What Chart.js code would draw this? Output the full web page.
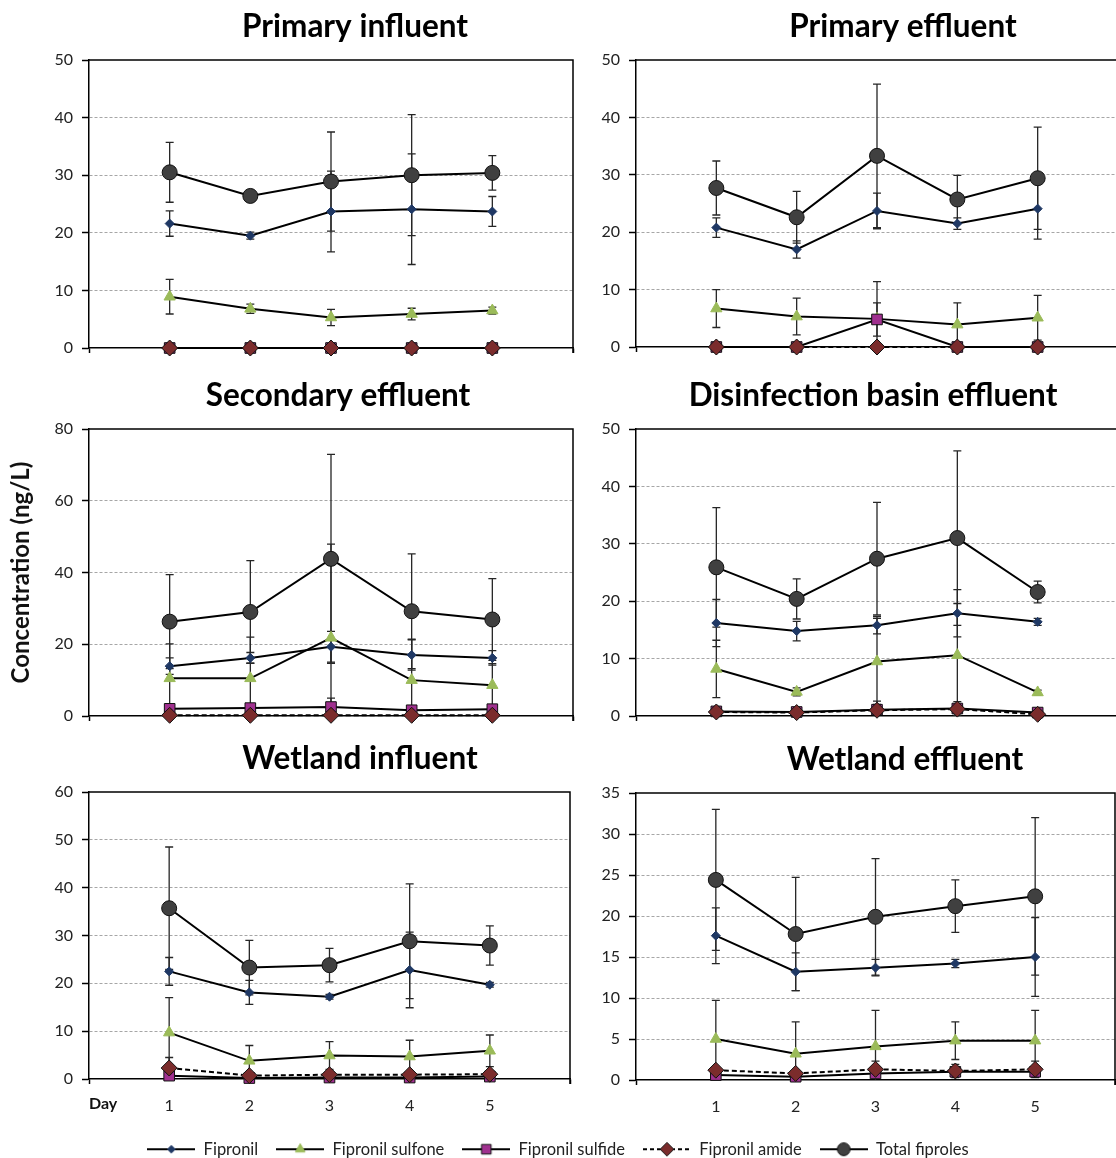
<!DOCTYPE html>
<html><head><meta charset="utf-8">
<script src="https://cdn.jsdelivr.net/npm/chart.js@4"></script>
<style>
html,body{margin:0;padding:0;background:#fff;overflow:hidden;width:1116px;height:1158px;position:relative;}
canvas.c{position:absolute;}
</style></head><body>
<script>
// ---------- data ----------
const days = [1, 2, 3, 4, 5];
const panelTitles = ['Primary influent', 'Primary effluent', 'Secondary effluent',
  'Disinfection basin effluent', 'Wetland influent', 'Wetland effluent'];
const yMaxes = [50, 50, 80, 50, 60, 35];
const ySteps = [10, 10, 20, 10, 10, 5];
const seriesNames = ['Fipronil', 'Fipronil sulfone', 'Fipronil sulfide', 'Fipronil amide', 'Total fiproles'];

// one row per panel (same order as panelTitles)
const fipronil = [
  [21.6, 19.5, 23.7, 24.1, 23.7],
  [20.8, 17.0, 23.7, 21.5, 24.1],
  [13.9, 16.2, 19.3, 17.0, 16.2],
  [16.2, 14.8, 15.8, 17.9, 16.4],
  [22.5, 18.1, 17.2, 22.8, 19.7],
  [17.6, 13.2, 13.7, 14.2, 15.0]];
const fipronilSD = [
  [2.2, 0.6, 7.0, 9.6, 2.6],
  [1.7, 1.5, 3.1, 1.0, 5.3],
  [2.3, 1.5, 4.3, 4.2, 2.0],
  [4.1, 1.7, 1.5, 4.1, 0.6],
  [2.9, 2.5, 0.5, 7.9, 0.5],
  [3.4, 2.3, 1.0, 0.5, 4.8]];
const sulfone = [
  [8.9, 6.8, 5.3, 5.9, 6.5],
  [6.7, 5.3, 4.9, 3.9, 5.1],
  [10.5, 10.5, 21.8, 10.0, 8.6],
  [8.2, 4.2, 9.5, 10.6, 4.1],
  [9.7, 3.8, 4.9, 4.7, 5.9],
  [5.0, 3.2, 4.1, 4.8, 4.8]];
const sulfoneSD = [
  [3.0, 0.8, 1.4, 1.0, 0.6],
  [3.3, 3.2, 6.5, 3.8, 3.9],
  [9.6, 11.5, 26.1, 11.4, 6.0],
  [5.0, 0.7, 7.5, 9.0, 0.4],
  [7.3, 3.2, 2.9, 3.4, 3.3],
  [4.7, 3.9, 4.4, 2.3, 3.7]];
const sulfide = [
  [0, 0, 0, 0, 0],
  [0, 0, 4.8, 0, 0],
  [2.0, 2.2, 2.5, 1.6, 1.9],
  [0.8, 0.7, 1.1, 1.3, 0.6],
  [0.7, 0.2, 0.3, 0.3, 0.5],
  [0.6, 0.4, 0.8, 1.0, 1.0]];
const sulfideSD = [
  [0, 0, 0, 0, 0],
  [0, 0, 2.9, 0, 0],
  [0.5, 1.0, 2.5, 0.5, 0.5],
  [0.3, 0.2, 1.5, 1.2, 0.2],
  [0.3, 0.2, 0.3, 0.3, 0.3],
  [0.3, 0.3, 0.5, 0.4, 0.6]];
const amide = [
  [0, 0, 0, 0, 0],
  [0, 0, 0, 0, 0],
  [0.2, 0.2, 0.2, 0.2, 0.2],
  [0.7, 0.6, 1.0, 1.2, 0.3],
  [2.3, 0.7, 0.9, 0.9, 1.0],
  [1.2, 0.8, 1.3, 1.1, 1.3]];
const amideSD = [
  [0, 0, 0, 0, 0],
  [0, 0, 0, 0, 0],
  [0, 0, 0, 0, 0],
  [0.2, 0.2, 0.5, 0.5, 0.1],
  [2.2, 0.3, 0.3, 0.3, 0.3],
  [0.3, 0.3, 1.0, 0.8, 1.0]];
const total = [
  [30.5, 26.4, 28.9, 30.0, 30.4],
  [27.7, 22.6, 33.3, 25.7, 29.4],
  [26.3, 29.0, 43.8, 29.2, 26.9],
  [25.9, 20.4, 27.4, 31.0, 21.6],
  [35.7, 23.3, 23.8, 28.8, 27.9],
  [24.4, 17.8, 19.9, 21.2, 22.4]];
const totalSD = [
  [5.2, 1.0, 8.6, 10.5, 3.0],
  [4.7, 4.5, 12.5, 4.2, 8.9],
  [13.1, 14.3, 29.1, 16.0, 11.4],
  [10.4, 3.5, 9.8, 15.2, 1.9],
  [12.8, 5.7, 3.5, 12.0, 4.1],
  [8.6, 6.9, 7.1, 3.2, 9.6]];

// ---------- styles / layout ----------
const styles = [
  {shape: 'rectRot', radius: 4.5, fill: '#1F3864', stroke: '#1F3864', dash: []},
  {shape: 'triangle', radius: 6.5, fill: '#9BBB59', stroke: '#9BBB59', dash: []},
  {shape: 'rect', radius: 7.5, fill: '#A0308F', stroke: '#111', dash: []},
  {shape: 'rectRot', radius: 8, fill: '#7B2C2C', stroke: '#111', dash: [5, 3]},
  {shape: 'circle', radius: 7.5, fill: '#404040', stroke: '#111', dash: []}
];
const boxes = [
  {cl: 0,   ct: 0,   cw: 582, ch: 372, pl: 89,  pr: 575,  pt: 60,  pb: 348,  tx: 355},
  {cl: 582, ct: 0,   cw: 545, ch: 372, pl: 636, pr: 1122, pt: 60,  pb: 347,  tx: 903},
  {cl: 0,   ct: 372, cw: 582, ch: 368, pl: 89,  pr: 575,  pt: 429, pb: 716,  tx: 338},
  {cl: 582, ct: 372, cw: 545, ch: 368, pl: 636, pr: 1122, pt: 429, pb: 716,  tx: 873},
  {cl: 0,   ct: 735, cw: 582, ch: 386, pl: 89,  pr: 575,  pt: 792, pb: 1079, tx: 360},
  {cl: 582, ct: 735, cw: 545, ch: 386, pl: 636, pr: 1122, pt: 793, pb: 1080, tx: 905}
];
const FONT = 'Lato';

const errorBarPlugin = {
  id: 'errorBars',
  beforeDatasetsDraw(chart) {
    const ctx = chart.ctx, xs = chart.scales.x, ys = chart.scales.y;
    ctx.save();
    ctx.strokeStyle = '#262626';
    ctx.lineWidth = 1.3;
    chart.data.datasets.forEach(ds => {
      if (!ds.errors) return;
      ds.data.forEach((p, k) => {
        const e = ds.errors[k];
        if (!e) return;
        const x = xs.getPixelForValue(p.x);
        const y1 = ys.getPixelForValue(p.y + e);
        const lowClipped = p.y - e < ys.min;
        const y2 = ys.getPixelForValue(Math.max(p.y - e, ys.min));
        ctx.beginPath();
        ctx.moveTo(x, y1); ctx.lineTo(x, y2);
        ctx.moveTo(x - 4, y1); ctx.lineTo(x + 4, y1);
        if (!lowClipped) { ctx.moveTo(x - 4, y2); ctx.lineTo(x + 4, y2); }
        ctx.stroke();
      });
    });
    ctx.restore();
  }
};
const framePlugin = {
  id: 'frame',
  beforeDatasetsDraw(chart) {
    const a = chart.chartArea, ctx = chart.ctx;
    ctx.save();
    ctx.strokeStyle = '#000';
    ctx.lineWidth = 1.5;
    ctx.beginPath();
    ctx.moveTo(a.left, a.top); ctx.lineTo(a.right, a.top); ctx.lineTo(a.right, a.bottom + 5);
    ctx.stroke();
    ctx.restore();
  }
};
const titlePlugin = {
  id: 'panelTitle',
  afterDraw(chart, args, opts) {
    const ctx = chart.ctx;
    ctx.save();
    ctx.font = 'bold 31.5px ' + FONT;
    ctx.fillStyle = '#000';
    ctx.textAlign = 'center';
    ctx.textBaseline = 'alphabetic';
    ctx.fillText(opts.text, opts.x, opts.y);
    ctx.restore();
  }
};

function addCanvas(l, t, w, h) {
  const cv = document.createElement('canvas');
  cv.className = 'c';
  cv.width = w; cv.height = h;
  cv.style.left = l + 'px'; cv.style.top = t + 'px';
  cv.style.width = w + 'px'; cv.style.height = h + 'px';
  document.body.appendChild(cv);
  return cv;
}

function makePanel(i) {
  const b = boxes[i];
  const cv = addCanvas(b.cl, b.ct, b.cw, b.ch);
  const bottomRow = i >= 4;
  const vals = [fipronil[i], sulfone[i], sulfide[i], amide[i], total[i]];
  const sds = [fipronilSD[i], sulfoneSD[i], sulfideSD[i], amideSD[i], totalSD[i]];
  const datasets = vals.map((v, s) => ({
    label: seriesNames[s],
    data: days.map((d, k) => ({x: d, y: v[k]})),
    errors: sds[s],
    borderColor: '#000', borderWidth: 2, borderDash: styles[s].dash,
    pointStyle: styles[s].shape, pointRadius: styles[s].radius, pointHoverRadius: styles[s].radius,
    pointBackgroundColor: styles[s].fill, pointBorderColor: styles[s].stroke, pointBorderWidth: 1,
    tension: 0, fill: false, clip: false, order: 4 - s
  }));
  const ymax = yMaxes[i];
  new Chart(cv, {
    type: 'line',
    data: {datasets},
    options: {
      responsive: false, animation: false, devicePixelRatio: 1, events: [],
      layout: {padding: {left: 0, top: b.pt - b.ct, right: b.cl + b.cw - b.pr, bottom: 0}},
      plugins: {
        legend: {display: false}, tooltip: {enabled: false},
        panelTitle: {text: panelTitles[i], x: b.tx - b.cl, y: b.pt - 23 - b.ct}
      },
      scales: {
        x: {
          type: 'linear', min: 0, max: 6,
          afterFit: s => { s.height = b.ct + b.ch - b.pb; },
          ticks: {stepSize: 1, autoSkip: false, maxRotation: 0, display: bottomRow,
            callback: v => (v >= 1 && v <= 5) ? String(v) : '',
            font: {family: FONT, size: 16}, color: '#222', padding: 12},
          grid: {display: true, drawOnChartArea: false, drawTicks: true, tickLength: 5, tickWidth: 1.5,
            tickColor: c => (c.tick && (c.tick.value === 0 || c.tick.value === 6)) ? '#000' : 'rgba(0,0,0,0)'},
          border: {display: true, color: '#000', width: 1.5},
          title: {display: i === 4, text: 'Day', align: 'start', color: '#111',
            font: {family: FONT, size: 16, weight: 'bold'}, padding: {top: 0, bottom: 8}}
        },
        y: {
          min: 0, max: ymax,
          afterFit: s => { s.width = b.pl - b.cl; },
          ticks: {stepSize: ySteps[i], font: {family: FONT, size: 16}, color: '#222', padding: 9},
          grid: {lineWidth: 1, tickLength: 7, tickWidth: 1.5, tickColor: '#000',
            color: c => (c.tick && (c.tick.value === 0 || c.tick.value === ymax)) ? 'rgba(0,0,0,0)' : '#A6A6A6'},
          border: {display: true, color: '#000', width: 1.5, dash: [3, 2]},
          title: {display: i === 2, text: 'Concentration (ng/L)', color: '#111',
            font: {family: FONT, size: 24, weight: 'bold'}, padding: {top: 7, bottom: 0}}
        }
      }
    },
    plugins: [errorBarPlugin, framePlugin, titlePlugin]
  });
}

function legendIcon(s) {
  const st = styles[s];
  const c = document.createElement('canvas');
  c.width = 48; c.height = 18;
  const g = c.getContext('2d');
  g.strokeStyle = '#000'; g.lineWidth = 2;
  g.setLineDash(s === 3 ? [4, 3] : []);
  g.beginPath(); g.moveTo(0, 9); g.lineTo(48, 9); g.stroke();
  g.setLineDash([]);
  const r = st.radius * 0.85, x = 24, y = 9;
  g.fillStyle = st.fill; g.strokeStyle = st.stroke; g.lineWidth = 1;
  g.beginPath();
  if (st.shape === 'rectRot') { g.moveTo(x, y - r); g.lineTo(x + r, y); g.lineTo(x, y + r); g.lineTo(x - r, y); g.closePath(); }
  else if (st.shape === 'triangle') { g.moveTo(x, y - r); g.lineTo(x + r * 0.87, y + r * 0.5); g.lineTo(x - r * 0.87, y + r * 0.5); g.closePath(); }
  else if (st.shape === 'rect') { const h = r * 0.75; g.rect(x - h, y - h, 2 * h, 2 * h); }
  else { g.arc(x, y, r, 0, Math.PI * 2); }
  g.fill(); g.stroke();
  return c;
}

function makeLegend() {
  const cv = addCanvas(0, 1123, 1116, 140);
  new Chart(cv, {
    type: 'line',
    data: {datasets: seriesNames.map((n, s) => ({label: n, data: [], pointStyle: legendIcon(s), borderColor: '#000', backgroundColor: '#000'}))},
    options: {
      responsive: false, animation: false, devicePixelRatio: 1, events: [],
      scales: {x: {display: false}, y: {display: false}},
      plugins: {
        tooltip: {enabled: false},
        legend: {display: true, position: 'top',
          labels: {usePointStyle: true, pointStyleWidth: 48, boxHeight: 18,
            font: {family: FONT, size: 16.5}, color: '#222', padding: 18}}
      }
    }
  });
}

function render() {
  for (let i = 0; i < 6; i++) makePanel(i);
  try { makeLegend(); } catch (e) { console.error(e); }
}
if (document.fonts && document.fonts.load) {
  Promise.all([document.fonts.load('bold 30px Lato'), document.fonts.load('16px Lato')]).then(render, render);
} else { render(); }
</script>
</body></html>
